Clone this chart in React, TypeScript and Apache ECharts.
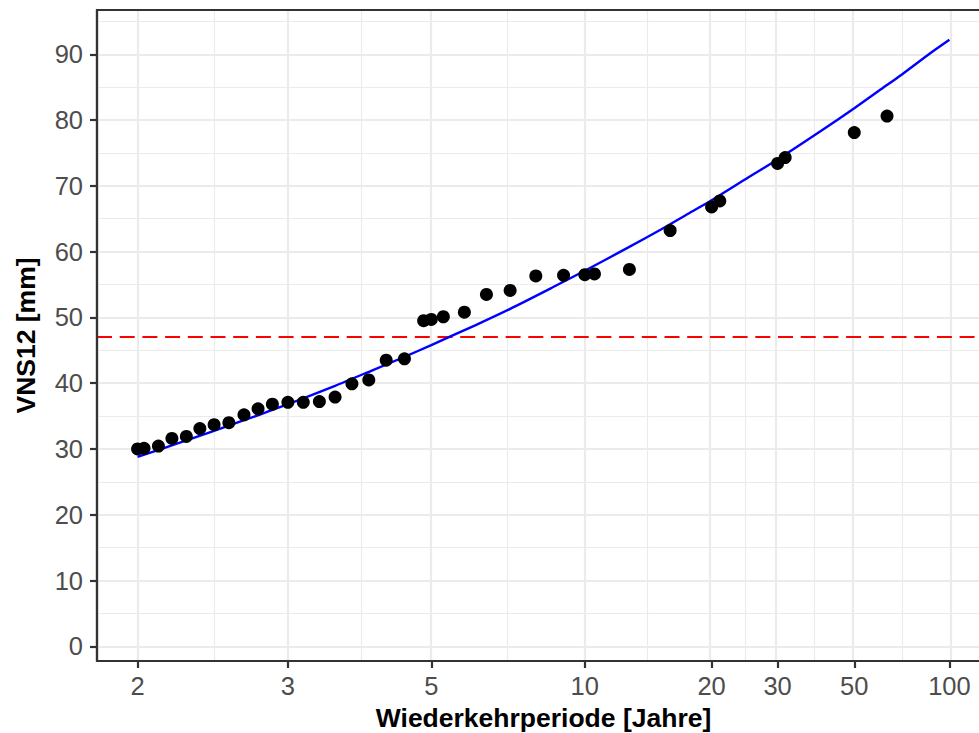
import React, { useEffect, useRef } from "react";
import * as echarts from "echarts";

// x-axis: return periods (years) shown on a normal-probability scale
const tickPeriods = [2, 3, 5, 10, 20, 30, 50, 100];
const tickLabels = ["2", "3", "5", "10", "20", "30", "50", "100"];
const yTicks = [0, 10, 20, 30, 40, 50, 60, 70, 80, 90];
const yMinorTicks = [5, 15, 25, 35, 45, 55, 65, 75, 85, 95];

// observed annual maxima, ranked (return period, VNS12 mm)
const rankedPeriods = [63, 31.5, 21, 15.75, 12.6, 10.5, 9, 7.88, 7, 6.3, 5.73, 5.25, 4.85, 4.5, 4.2, 3.94, 3.71, 3.5, 3.32, 3.15, 3, 2.86, 2.74, 2.63, 2.52, 2.42, 2.33, 2.25, 2.17, 2.1, 2.03];
const rankedValues = [80.6, 74.3, 67.7, 63.2, 57.3, 56.6, 56.4, 56.3, 54.1, 53.5, 50.8, 50.1, 49.5, 43.7, 43.5, 40.5, 39.9, 37.9, 37.2, 37.1, 37.1, 36.8, 36.1, 35.2, 34.0, 33.7, 33.1, 31.9, 31.6, 30.45, 30.1];

// empirical values at standard return periods
const standardPeriods = [2, 5, 10, 20, 30, 50];
const standardValues = [30.0, 49.7, 56.5, 66.8, 73.4, 78.1];

// fitted distribution curve
const fitPeriods = [2, 2.25, 2.5, 2.75, 3, 3.5, 4, 4.5, 5, 6, 7, 8.5, 10, 12.5, 15, 17.5, 20, 25, 30, 40, 50, 60, 70, 85, 100];
const fitValues = [28.8, 31.3, 33.4, 35.2, 36.8, 39.6, 42.0, 44.0, 45.8, 48.8, 51.3, 54.5, 57.1, 60.6, 63.4, 65.8, 67.8, 71.3, 74.0, 78.4, 81.8, 84.6, 86.9, 89.9, 92.2];

// threshold
const thresholdValue = 47;

// y axis range (as in the reference panel)
const yMin = -2.23;
const yMax = 96.73;

function probit(p: number): number {
  const a = [-3.969683028665376e1, 2.209460984245205e2, -2.759285104469687e2, 1.38357751867269e2, -3.066479806614716e1, 2.506628277459239];
  const b = [-5.447609879822406e1, 1.615858368580409e2, -1.556989798598866e2, 6.680131188771972e1, -1.328068155288572e1];
  const c = [-7.784894002430293e-3, -3.223964580411365e-1, -2.400758277161838, -2.549732539343734, 4.374664141464968, 2.938163982698783];
  const d = [7.784695709041462e-3, 3.224671290700398e-1, 2.445134137142996, 3.754408661907416];
  const pl = 0.02425;
  const ph = 1 - pl;
  let q: number, r: number;
  if (p < pl) {
    q = Math.sqrt(-2 * Math.log(p));
    return (((((c[0] * q + c[1]) * q + c[2]) * q + c[3]) * q + c[4]) * q + c[5]) / ((((d[0] * q + d[1]) * q + d[2]) * q + d[3]) * q + 1);
  }
  if (p <= ph) {
    q = p - 0.5;
    r = q * q;
    return ((((((a[0] * r + a[1]) * r + a[2]) * r + a[3]) * r + a[4]) * r + a[5]) * q) / (((((b[0] * r + b[1]) * r + b[2]) * r + b[3]) * r + b[4]) * r + 1);
  }
  q = Math.sqrt(-2 * Math.log(1 - p));
  return -(((((c[0] * q + c[1]) * q + c[2]) * q + c[3]) * q + c[4]) * q + c[5]) / ((((d[0] * q + d[1]) * q + d[2]) * q + d[3]) * q + 1);
}
const zOf = (T: number) => probit(1 - 1 / T);

const FONT = "'Liberation Sans', Arial, Helvetica, sans-serif";

export default function App() {
  const ref = useRef<HTMLDivElement>(null);
  useEffect(() => {
    if (!ref.current) return;
    const chart = echarts.init(ref.current, undefined, { renderer: "svg" });

    const zTicks = tickPeriods.map(zOf);
    const zLo = zTicks[0];
    const zHi = zTicks[zTicks.length - 1];
    const xMin = zLo - 0.05 * (zHi - zLo);
    const xMax = zHi + 0.05 * (zHi - zLo);
    const zMinor: number[] = [];
    for (let i = 0; i < zTicks.length - 1; i++) zMinor.push((zTicks[i] + zTicks[i + 1]) / 2);

    const gridMajor = { color: "#EBEBEB", width: 2.2, type: "solid" as const };
    const gridMinor = { color: "#EBEBEB", width: 1.1, type: "solid" as const };

    const gridLines = [
      ...zMinor.map((v) => ({ xAxis: v, lineStyle: gridMinor })),
      ...yMinorTicks.filter((v) => v > yMin && v < yMax).map((v) => ({ yAxis: v, lineStyle: gridMinor })),
      ...zTicks.map((v) => ({ xAxis: v, lineStyle: gridMajor })),
      ...yTicks.map((v) => ({ yAxis: v, lineStyle: gridMajor })),
    ];

    const labelFor = (v: number) => {
      let best = 0;
      for (let i = 1; i < zTicks.length; i++) if (Math.abs(zTicks[i] - v) < Math.abs(zTicks[best] - v)) best = i;
      return tickLabels[best];
    };

    const gridLeft = 97;
    const gridTop = 10;
    const gridWidth = 893;
    const gridHeight = 651;

    const pointStyle = { color: "#000000", opacity: 1, borderWidth: 0 };

    const option: any = {
      animation: false,
      backgroundColor: "#FFFFFF",
      grid: {
        left: gridLeft,
        top: gridTop,
        width: gridWidth,
        height: gridHeight,
        containLabel: false,
        outerBoundsMode: "none",
        show: false,
      },
      xAxis: {
        type: "value",
        min: xMin,
        max: xMax,
        name: "Wiederkehrperiode [Jahre]",
        nameLocation: "middle",
        nameGap: 43,
        nameTextStyle: { fontFamily: FONT, fontWeight: "bold", fontSize: 26.5, color: "#000000" },
        axisLine: { show: true, onZero: false, lineStyle: { color: "#333333", width: 2.2 } },
        axisTick: { show: true, customValues: zTicks, length: 7, lineStyle: { color: "#333333", width: 2.2 } },
        axisLabel: {
          show: true,
          customValues: zTicks,
          formatter: (v: number) => labelFor(v),
          fontFamily: FONT,
          fontSize: 25.5,
          color: "#4D4D4D",
          margin: 12,
          hideOverlap: false,
        },
        splitLine: { show: false },
        minorSplitLine: { show: false },
      },
      yAxis: {
        type: "value",
        min: yMin,
        max: yMax,
        name: "VNS12 [mm]",
        nameLocation: "middle",
        nameGap: 58,
        nameRotate: 90,
        nameTextStyle: { fontFamily: FONT, fontWeight: "bold", fontSize: 26.5, color: "#000000" },
        axisLine: { show: true, onZero: false, lineStyle: { color: "#333333", width: 2.2 } },
        axisTick: { show: true, customValues: yTicks, length: 7, lineStyle: { color: "#333333", width: 2.2 } },
        axisLabel: {
          show: true,
          customValues: yTicks,
          fontFamily: FONT,
          fontSize: 25.5,
          color: "#4D4D4D",
          margin: 14,
          hideOverlap: false,
        },
        splitLine: { show: false },
        minorSplitLine: { show: false },
      },
      graphic: [
        {
          type: "rect",
          z: 100,
          silent: true,
          shape: { x: gridLeft, y: gridTop, width: gridWidth, height: gridHeight },
          style: { fill: "none", stroke: "#333333", lineWidth: 2.2 },
        },
      ],
      series: [
        {
          type: "line",
          name: "grid",
          data: [],
          z: 1,
          silent: true,
          markLine: {
            z: 1,
            silent: true,
            symbol: ["none", "none"],
            label: { show: false },
            emphasis: { disabled: true },
            data: gridLines,
          },
        },
        {
          type: "line",
          name: "threshold",
          data: [],
          z: 2,
          silent: true,
          markLine: {
            z: 2,
            silent: true,
            symbol: ["none", "none"],
            label: { show: false },
            emphasis: { disabled: true },
            lineStyle: { color: "#FF0000", width: 2.2, type: [15, 7.7] },
            data: [{ yAxis: thresholdValue }],
          },
        },
        {
          type: "line",
          name: "fit",
          z: 3,
          data: fitPeriods.map((T, i) => [zOf(T), fitValues[i]]),
          showSymbol: false,
          symbol: "none",
          smooth: 0.25,
          lineStyle: { color: "#0000FF", width: 2.4, type: "solid", opacity: 1 },
          emphasis: { disabled: true },
          silent: true,
        },
        {
          type: "scatter",
          name: "ranked",
          z: 4,
          data: rankedPeriods.map((T, i) => [zOf(T), rankedValues[i]]),
          symbol: "circle",
          symbolSize: 13,
          itemStyle: pointStyle,
          emphasis: { disabled: true },
          silent: true,
        },
        {
          type: "scatter",
          name: "standard",
          z: 4,
          data: standardPeriods.map((T, i) => [zOf(T), standardValues[i]]),
          symbol: "circle",
          symbolSize: 13,
          itemStyle: pointStyle,
          emphasis: { disabled: true },
          silent: true,
        },
      ],
    };

    chart.setOption(option);
    return () => chart.dispose();
  }, []);

  return (
    <div
      ref={ref}
      style={{ position: "fixed", left: 0, top: 0, width: 979, height: 733, background: "#FFFFFF", overflow: "hidden" }}
    />
  );
}
